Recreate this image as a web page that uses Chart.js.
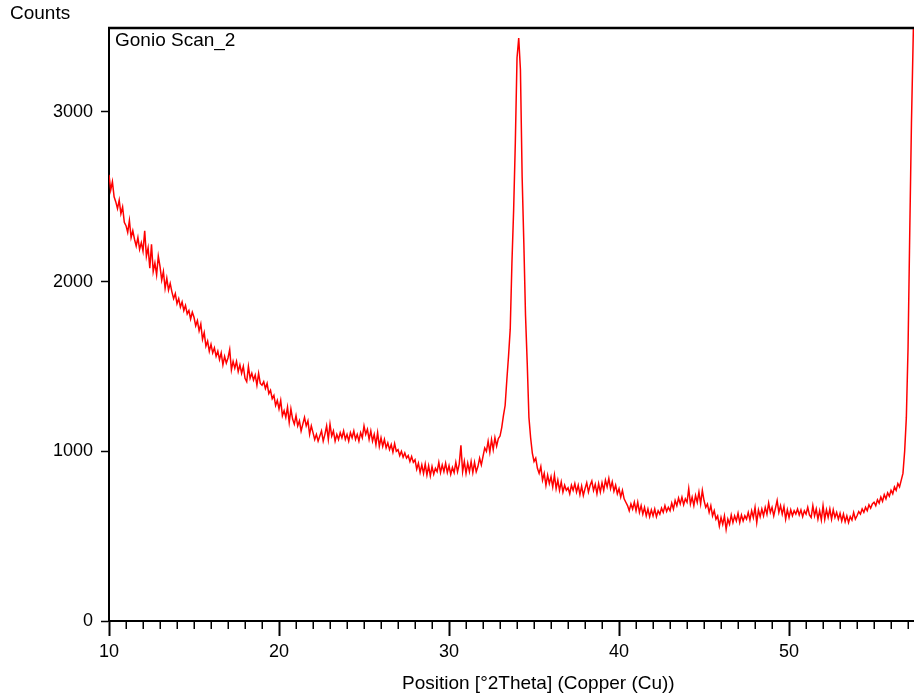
<!DOCTYPE html>
<html lang="en">
<head>
  <meta charset="UTF-8">
  <title>Gonio Scan_2</title>
  <script src="https://cdn.jsdelivr.net/npm/chart.js"></script>
  <style>
    html, body { margin: 0; padding: 0; background: #fff; }
    #wrap { width: 914px; height: 698px; }
  </style>
</head>
<body>
  <div id="wrap"><canvas id="scanChart" width="914" height="698"></canvas></div>

  <script>
    // scan settings: first angle and step (degrees 2Theta)
    const startAngle = 10.0;
    const angleStep = 0.1;

    // counts, one row per degree (10.x, 11.x, ...)
    const counts = [
      2630, 2540, 2590, 2500, 2470, 2430, 2480, 2400, 2440, 2350,
      2330, 2290, 2360, 2260, 2300, 2250, 2210, 2260, 2190, 2230,
      2180, 2300, 2150, 2200, 2080, 2220, 2060, 2110, 2040, 2150,
      2090, 2010, 2060, 1960, 2020, 1950, 1990, 1940, 1900, 1930,
      1870, 1900, 1850, 1880, 1830, 1860, 1810, 1830, 1780, 1820,
      1790, 1740, 1770, 1710, 1750, 1660, 1700, 1620, 1650, 1590,
      1630, 1580, 1610, 1560, 1590, 1540, 1580, 1510, 1560, 1520,
      1550, 1600, 1480, 1530, 1490, 1530, 1470, 1510, 1460, 1500,
      1430, 1410, 1500, 1430, 1460, 1420, 1450, 1390, 1460, 1400,
      1390, 1410, 1370, 1400, 1340, 1360, 1310, 1330, 1270, 1300,
      1250, 1300, 1210, 1240, 1200, 1260, 1170, 1250, 1190, 1160,
      1210, 1150, 1180, 1120, 1160, 1200, 1150, 1180, 1100, 1150,
      1110, 1070, 1100, 1060, 1090, 1120, 1060, 1100, 1150, 1070,
      1160, 1090, 1120, 1060, 1100, 1070, 1110, 1080, 1120, 1070,
      1100, 1060, 1110, 1080, 1120, 1070, 1100, 1060, 1110, 1080,
      1150, 1100, 1130, 1070, 1120, 1060, 1100, 1040, 1110, 1030,
      1080, 1030, 1070, 1020, 1050, 1010, 1040, 995, 1045, 1000,
      1010, 975, 1000, 965, 990, 960, 975, 940, 970, 935,
      950, 895, 930, 875, 920, 870, 925, 860, 915, 855,
      910, 865, 900, 880, 935, 875, 920, 880, 930, 875,
      915, 865, 905, 875, 935, 880, 925, 1035, 880, 940,
      870, 930, 880, 940, 875, 935, 880, 910, 960, 920,
      970, 1020, 1000, 1060, 995, 1070, 1010, 1080, 1030, 1075,
      1090, 1140, 1210, 1270, 1420, 1560, 1720, 2110, 2420, 2820,
      3320, 3436, 3250, 2620, 2230, 1800, 1520, 1200, 1080, 990,
      940, 960, 900, 870, 910, 830, 870, 800, 860, 810,
      850, 790, 860, 780, 830, 770, 820, 760, 800, 770,
      785, 750, 800, 770, 810, 760, 800, 745, 795, 740,
      780, 815, 760, 800, 825, 770, 805, 750, 810, 760,
      815, 770, 830, 790, 840, 780, 820, 765, 800, 750,
      780, 730, 770, 720, 700, 680, 650, 690, 660, 700,
      650, 700, 640, 680, 630, 670, 620, 660, 615, 655,
      620, 660, 615, 650, 630, 665, 640, 680, 645, 670,
      650, 695, 660, 710, 680, 725, 690, 730, 685, 720,
      700, 780, 690, 730, 680, 740, 700, 760, 690, 770,
      710, 670, 690, 640, 680, 620, 650, 600, 620, 560,
      610, 570, 620, 540, 600, 570, 625, 580, 620, 590,
      635, 580, 625, 590, 620, 600, 640, 595, 650, 610,
      670, 580, 655, 615, 660, 620, 670, 630, 695, 640,
      670, 620, 665, 710, 640, 680, 630, 675, 600, 655,
      610, 655, 620, 650, 630, 660, 625, 655, 615, 650,
      630, 670, 625, 610, 680, 620, 660, 600, 650, 595,
      680, 600, 655, 610, 660, 600, 655, 610, 640, 600,
      635, 590, 630, 585, 620, 580, 615, 595, 640, 600,
      620, 645, 630, 660, 640, 670, 650, 685, 665, 690,
      700, 680, 715, 695, 730, 705, 745, 720, 755, 735,
      770, 750, 790, 770, 810, 790, 830, 870, 1000, 1200,
      1610, 2290, 2935, 3424, 3900
    ];

    const xTicks = [10, 20, 30, 40, 50];
    const yTicks = [0, 1000, 2000, 3000];

    const points = counts.map((c, i) => ({ x: +(startAngle + i * angleStep).toFixed(2), y: c }));

    const FONT = '"Liberation Sans", Arial, sans-serif';

    // frame, minor ticks and the free texts
    const framePlugin = {
      id: 'frame',
      afterDraw(chart) {
        const { ctx, chartArea } = chart;
        const xs = chart.scales.x;
        ctx.save();
        ctx.strokeStyle = '#000';
        ctx.lineWidth = 2.5;
        ctx.beginPath();
        ctx.moveTo(chartArea.left - 1, chartArea.top);
        ctx.lineTo(chartArea.right, chartArea.top);
        ctx.stroke();

        ctx.lineWidth = 1.5;
        for (let v = Math.ceil(xs.min); v <= xs.max; v++) {
          if (v % 10 === 0) continue;
          const px = Math.round(xs.getPixelForValue(v)) + 0.25;
          ctx.beginPath();
          ctx.moveTo(px, chartArea.bottom);
          ctx.lineTo(px, chartArea.bottom + 8);
          ctx.stroke();
        }

        ctx.fillStyle = '#000';
        ctx.textBaseline = 'middle';
        ctx.textAlign = 'left';
        ctx.font = '19px ' + FONT;
        ctx.fillText('Counts', 10, 14);
        ctx.fillText('Gonio Scan_2', 115, 41);
        ctx.fillText('Position [°2Theta] (Copper (Cu))', 402, 684);
        ctx.restore();
      }
    };

    new Chart(document.getElementById('scanChart'), {
      type: 'line',
      data: {
        datasets: [{
          label: 'Gonio Scan_2',
          data: points,
          borderColor: '#ff0000',
          borderWidth: 1.5,
          pointRadius: 0,
          tension: 0,
        }],
      },
      options: {
        responsive: false,
        animation: false,
        layout: { padding: { top: 28, left: 0, right: 0, bottom: 0 } },
        plugins: {
          legend: { display: false },
          tooltip: { enabled: false },
        },
        scales: {
          x: {
            type: 'linear',
            min: 10,
            max: 57.35,
            afterFit: (scale) => { scale.height = 77; },
            afterBuildTicks: (scale) => { scale.ticks = xTicks.map(v => ({ value: v })); },
            ticks: {
              padding: 5,
              color: '#000',
              font: { family: FONT, size: 18 },
              maxRotation: 0,
              callback: (v) => String(v),
            },
            grid: {
              drawOnChartArea: false,
              tickLength: 15,
              tickColor: '#000',
              tickWidth: 2,
            },
            border: { display: true, color: '#000', width: 2 },
          },
          y: {
            min: 0,
            max: 3495,
            afterFit: (scale) => { scale.width = 109; },
            afterBuildTicks: (scale) => { scale.ticks = yTicks.map(v => ({ value: v })); },
            ticks: {
              padding: 8,
              color: '#000',
              font: { family: FONT, size: 18 },
              callback: (v) => String(v),
            },
            grid: {
              drawOnChartArea: false,
              tickLength: 8,
              tickColor: '#000',
              tickWidth: 1.5,
            },
            border: { display: true, color: '#000', width: 2 },
          },
        },
      },
      plugins: [framePlugin],
    });
  </script>
</body>
</html>
